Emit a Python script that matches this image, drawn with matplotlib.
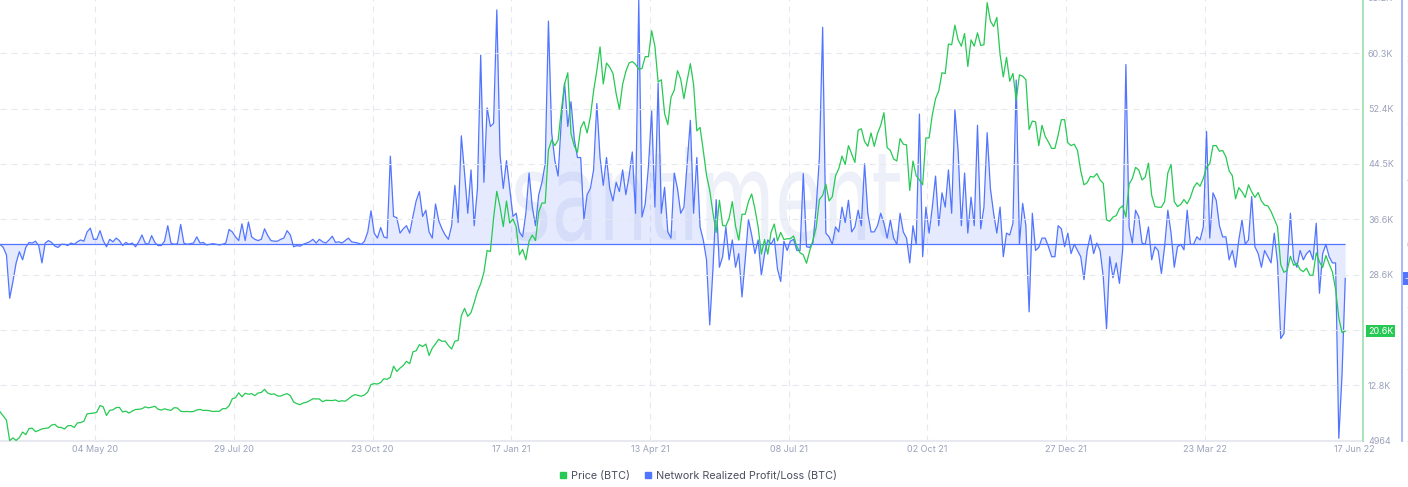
import matplotlib
matplotlib.use("Agg")
import matplotlib.pyplot as plt
import matplotlib.dates as mdates
import numpy as np
import pandas as pd
from matplotlib.lines import Line2D
from matplotlib.textpath import TextPath
from matplotlib.patches import PathPatch
from matplotlib.font_manager import FontProperties
from matplotlib.transforms import Affine2D

# ---------------- data (2-day samples starting 2020-03-06) ----------------
START_DATE = "2020-03-06"

price = [
    # 2020
    9100, 8500, 7900, 4970, 5360, 5000, 5400, 6200, 5830, 6700, 6750, 6250, 6430,
    6640, 6730, 6780, 7200, 7300, 6880, 6850, 6640, 7100, 7130, 6850, 7500, 7550, 7750, 8800,
    8860, 8900, 9030, 9980, 9800, 8560, 9300, 9380, 9680, 9730, 9070, 9180, 8900, 9200, 9420, 9450,
    9520, 9800, 9650, 9750, 9880, 9460, 9340, 9520, 9380, 9300, 9680, 9630, 9170, 9110, 9140,
    9100, 9130, 9350, 9430, 9280, 9300, 9240, 9130, 9170, 9160, 9530, 9540, 9930, 10950, 11100,
    11800, 11230, 11740, 11600, 11680, 11400, 11770, 11850, 12300, 11760, 11580, 11650, 11350, 11330, 11540, 11680,
    11400, 10500, 10250, 10110, 10350, 10450, 10680, 10950, 10930, 10920, 10530, 10740, 10720, 10690, 10780,
    10560, 10670, 10600, 10920, 11300, 11550, 11430, 11320, 11500, 11920, 12990, 13110, 13060, 13270, 13800,
    13740, 14020, 15600, 14850, 15330, 15700, 16300, 15960, 17650, 17800, 18680, 18400, 18760, 17140, 18190,
    18800, 19450, 19150, 19190, 18550, 18060, 19170, 19270, 22800, 23860, 22720, 23240, 24700, 26270, 27360, 28990,
    # 2021
    32130, 31970, 36770, 40580, 38350, 35540, 39190, 36040, 36630, 35510, 31500, 32290, 30800, 33470, 34320,
    33540, 37620, 38900, 38900, 46480, 47900, 47100, 47900, 52150, 55890, 57500, 48800, 47070, 46150,
    49600, 50540, 48900, 51200, 54900, 57800, 61200, 55900, 58900, 58300, 57400, 54500, 52300, 55850, 57700, 58900,
    59100, 58700, 58000, 58100, 59800, 59800, 63500, 61300, 56200, 56500, 51700, 50100, 54000, 55000, 57800,
    56600, 53800, 56400, 58800, 55800, 49200, 49700, 46400, 42900, 40700, 37500, 34700, 39300, 35700, 35600,
    36700, 39100, 35600, 33600, 37300, 37300, 39100, 40200, 38100, 35500, 31600, 33700, 31600, 34700, 35900,
    33500, 34700, 33700, 33800, 33800, 34200, 32700, 31800, 31500, 30300, 32100, 33600, 35400, 39400, 40000, 41600,
    39200, 39800, 42800, 43800, 45600, 44400, 47100, 45900, 44700, 49300, 49500, 47700, 47000, 48900, 47000,
    48800, 50000, 51800, 46800, 46400, 45200, 44900, 48100, 47300, 47200, 40700, 44900, 42800, 42200, 41500,
    48200, 48200, 51500, 53800, 54900, 57500, 57400, 61600, 61500, 64300, 62200, 61300, 63100, 58400, 62200, 61300,
    63200, 61400, 61500, 67500, 64900, 64100, 65400, 60100, 56900, 59700, 56300, 57400, 53600, 57200, 57000,
    56500, 49400, 50600, 50500, 47100, 50000, 48400, 47600, 46700, 46700, 48600, 50800, 50800, 47500, 47100,
    # 2022
    47300, 46400, 43500, 41500, 41800, 42700, 42600, 43100, 42200, 41700, 36500, 36300, 36900, 37100, 38100, 38500,
    36900, 41600, 42400, 44000, 43600, 42200, 42600, 44600, 40000, 38400, 38300, 38300, 39100, 43200,
    44400, 39100, 38400, 38700, 39400, 38800, 39700, 41100, 41800, 41300, 42400, 44000, 44500, 47100, 47100,
    46300, 46400, 45500, 43500, 42800, 39500, 41100, 40500, 39700, 41500, 40500, 39700, 40400, 39200, 38600,
    38500, 37700, 36600, 35500, 30100, 29000, 29300, 31300, 30000, 30300, 29400, 29100, 29600, 28600, 28600, 31800,
    30500, 29700, 31400, 30200, 29100, 26600, 22500, 20400, 20600,
]

pnl = [  # network realized profit/loss, billions
    0.0, -0.05, -0.17, -0.87, -0.6, -0.3, -0.12, -0.25, -0.05, 0.03,
    0.02, 0.05, -0.02, -0.3, 0.02, 0.06, 0.03, -0.03, -0.05, 0.0,
    0.0, -0.02, 0.02, 0.0, 0.04, 0.07, 0.05, 0.2, 0.26, 0.08,
    0.08, 0.22, 0.06, -0.04, 0.08, 0.04, 0.1, 0.06, -0.02, 0.03,
    0.0, 0.02, -0.04, 0.04, 0.15, 0.02, 0.0, 0.14, 0.03, -0.02,
    -0.02, 0.05, 0.3, 0.02, 0.0, 0.01, 0.32, 0.02, 0.0, 0.01,
    0.02, 0.12, 0.02, 0.03, -0.01, 0.0, 0.01, 0.0, -0.01, 0.0,
    0.02, 0.24, 0.2, 0.12, 0.06, 0.33, 0.06, 0.36, 0.12, 0.08,
    0.06, 0.08, 0.25, 0.14, 0.06, 0.05, 0.05, 0.08, 0.1, 0.22,
    0.15, -0.04, -0.02, -0.03, 0.0, 0.02, 0.04, 0.08, 0.02, 0.08,
    0.04, 0.02, 0.07, 0.13, 0.03, 0.04, 0.02, 0.06, 0.1, 0.04,
    0.03, 0.02, 0.0, 0.05, 0.2, 0.54, 0.18, 0.1, 0.27, 0.12,
    0.1, 1.42, 0.45, 0.43, 0.18, 0.25, 0.3, 0.18, 0.45, 0.7,
    0.85, 0.45, 0.55, 0.2, 0.1, 0.65, 0.38, 0.25, 0.15, 0.08,
    0.3, 0.95, 0.35, 1.75, 1.15, 0.5, 1.2, 0.3, 0.9, 3.05,
    1.0, 2.2, 1.9, 1.95, 3.78, 1.45, 0.9, 1.35, 0.9, 0.45,
    0.5, 0.2, 0.12, 0.5, 1.15, 0.6, 0.3, 0.8, 1.0, 1.3,
    3.6, 1.8, 1.35, 1.1, 2.0, 2.6, 1.9, 2.3, 1.7, 1.4,
    1.4, 0.4, 0.8, 0.9, 1.2, 2.27, 1.4, 0.95, 1.4, 0.9,
    0.7, 1.0, 0.85, 1.2, 0.8, 1.1, 1.49, 0.5, 3.94, 0.44,
    0.65, 1.25, 2.15, 0.6, 2.6, 0.5, 0.92, 0.2, 0.1, 1.15,
    0.9, 0.5, 0.6, 1.3, 2.0, 0.5, 1.4, 0.28, 0.07, -0.25,
    -1.3, -0.4, 0.72, -0.37, -0.2, 0.28, -0.25, 0.07, -0.37, -0.15,
    -0.85, -0.25, 0.4, 0.15, -0.15, 0.07, -0.5, -0.15, 0.07, 0.0,
    0.1, -0.4, -0.6, 0.05, -0.1, 0.05, 0.08, -0.1, -0.1, 1.14,
    -0.04, -0.05, 0.02, 0.6, 1.4, 3.5, 0.18, 0.12, 0.0, 0.28,
    0.2, 0.6, 0.35, 0.71, 0.2, 0.28, 0.55, 0.3, 1.3, 0.5,
    0.2, 0.2, 0.3, 0.5, 0.34, 0.1, 0.39, 0.1, 0.0, 0.5,
    0.2, 0.1, -0.3, 0.3, 0.0, 2.1, -0.2, 0.6, 0.18, 0.6,
    1.1, 0.3, 0.83, 0.6, 1.2, 0.5, 2.17, 1.5, 0.3, 1.15,
    0.18, 0.76, 0.3, 1.92, 0.25, 0.6, 1.8, 0.9, 0.5, 0.18,
    0.6, -0.2, 0.18, 0.15, 0.34, 2.65, 0.0, 0.66, 0.3, -1.09,
    0.5, -0.1, -0.05, 0.1, 0.1, -0.04, -0.2, -0.2, 0.3, 0.25,
    -0.04, 0.18, -0.15, 0.0, -0.1, -0.2, -0.57, -0.1, 0.15, -0.15,
    0.02, -0.1, -0.53, -1.36, -0.2, -0.54, -0.3, -0.63, -0.09, 2.9,
    0.28, 0.02, 0.55, 0.44, 0.02, 0.0, 0.28, -0.25, -0.04, -0.1,
    -0.47, -0.04, 0.55, 0.18, -0.37, -0.04, 0.0, -0.09, 0.55, 0.0,
    0.0, 0.12, 0.07, 0.28, 1.82, 0.1, 0.83, 0.71, 0.3, 0.12,
    0.12, -0.25, -0.1, -0.37, 0.07, 0.39, 0.0, 0.07, 0.77, -0.04,
    -0.15, -0.37, -0.1, -0.2, -0.3, 0.18, -0.3, -1.52, -1.44, -0.37,
    0.5, -0.25, -0.37, -0.1, -0.25, -0.15, -0.1, -0.25, 0.34, -0.79,
    -0.15, 0.0, -0.2, -0.3, -0.3, -3.13, -2.1, -0.55,
]

date_ticks = ["2020-05-04", "2020-07-29", "2020-10-23", "2021-01-17", "2021-04-13",
              "2021-07-08", "2021-10-02", "2021-12-27", "2022-03-23"]
last_date_label = "17 Jun 22"
last_date = "2022-06-17"

price_ticks = [4964, 12869, 20774, 28679, 36584, 44489, 52394, 60299, 68204]
price_tick_labels = ["4964", "12.8K", "", "28.6K", "36.6K", "44.5K", "52.4K", "60.3K", "68.2K"]
price_last_label = "20.6K"

pnl_ticks = [-3.168, -2, -1, 0, 1, 2, 3]
pnl_tick_labels = ["-3.17B", "-2B", "-1B", "0", "1B", "2B", "3B"]
pnl_last_label = "-0.55B"

series_labels = ["Price (BTC)", "Network Realized Profit/Loss (BTC)"]

# ---------------- style ----------------
GREEN = "#26c953"
BLUE = "#5275ff"
TICK_C = "#9aa2bb"
GRID_C = "#e6e8f0"
plt.rcParams["font.family"] = ["Inter", "DejaVu Sans"]

W, H = 1408, 487
fig = plt.figure(figsize=(W / 100, H / 100), dpi=100, facecolor="white")
PR, PB, PTOP = 1363, 440.7, -2.2   # plot right, bottom, top (pixels from top)
axb = fig.add_axes([0, (H - PB) / H, PR / W, (PB - PTOP) / H])
axp = axb.twinx()
axb.patch.set_alpha(0)
axp.patch.set_alpha(0)

pdates = pd.date_range(START_DATE, periods=len(price), freq="2D")
bdates = pd.date_range(START_DATE, periods=len(pnl), freq="2D")

PRICE_LIM = (4964, 68204)
PNL_LIM = (-3.168, 3.976)

# watermark
fp = FontProperties(family="DejaVu Sans")
tp = TextPath((0, 0), "santiment", size=1, prop=fp)
ext = tp.get_extents()
sy = 67 / 0.547
sx = (900 - 515) / ext.width
tr = Affine2D().translate(-ext.x0, 0).scale(sx, sy).translate(515, H - 240).scale(1 / 100) + fig.dpi_scale_trans
wm = PathPatch(tp, transform=tr, fc="#edf0f9", ec="none", zorder=-1)
fig.add_artist(wm)

# blue series
axb.fill_between(bdates, pnl, 0, color=BLUE, alpha=0.15, lw=0, zorder=2)
axb.plot(bdates, pnl, color=BLUE, lw=0.9, zorder=3)
axb.hlines(0, bdates[0], bdates[-1], color=BLUE, lw=0.9, zorder=3)

# price series
axp.plot(pdates, price, color=GREEN, lw=0.9, zorder=3)

axb.set_xlim(pd.Timestamp("2020-03-06"), pd.Timestamp("2022-06-29"))

# x axis
axb.set_xticks(pd.to_datetime(date_ticks))
axb.xaxis.set_major_formatter(mdates.DateFormatter("%d %b %y"))
axb.tick_params(axis="x", length=0, pad=3, labelsize=6.5, labelcolor=TICK_C)
axb.grid(axis="x", color=GRID_C, lw=0.8, linestyle=(0, (5.4, 4.5)))
axb.annotate(last_date_label, xy=(pd.Timestamp(last_date), 0), xycoords=("data", "axes fraction"),
             xytext=(8, -3), textcoords="offset points", ha="center", va="top",
             fontsize=6.5, color=TICK_C, annotation_clip=False)

# price axis
axp.set_yticks(price_ticks)
axp.set_yticklabels(price_tick_labels)
axp.tick_params(axis="y", length=0, pad=3.6, labelsize=6.5, labelcolor=TICK_C)
axp.grid(axis="y", color=GRID_C, lw=0.8, linestyle=(0, (5.4, 4.5)))
axp.set_ylim(*PRICE_LIM)
for s in ["top", "left", "bottom"]:
    axp.spines[s].set_visible(False)
axp.spines["right"].set_color("#a8e5b8")
axp.spines["right"].set_linewidth(1.4)
axp.annotate(price_last_label, xy=(1, price[-1]), xycoords=("axes fraction", "data"),
             xytext=(3.8, 0), textcoords="offset points", ha="left", va="center",
             fontsize=6.5, color="white", annotation_clip=False,
             bbox=dict(boxstyle="square,pad=0.2", fc=GREEN, ec="none"))

# pnl axis
axb.yaxis.tick_right()
axb.set_yticks(pnl_ticks)
axb.set_yticklabels(pnl_tick_labels)
axb.tick_params(axis="y", length=0, pad=3.0, labelsize=6.5, labelcolor=TICK_C)
axb.set_ylim(*PNL_LIM)
for s in ["top", "left"]:
    axb.spines[s].set_visible(False)
axb.spines["bottom"].set_color("#e8e9f0")
axb.spines["bottom"].set_linewidth(1.5)
axb.spines["right"].set_position(("axes", 1402 / PR))
axb.spines["right"].set_color("#a9b8fb")
axb.spines["right"].set_linewidth(1.4)
axb.annotate(pnl_last_label, xy=(1402 / PR, pnl[-1]), xycoords=("axes fraction", "data"),
             xytext=(2, 0), textcoords="offset points", ha="left", va="center",
             fontsize=6.5, color="white", annotation_clip=False,
             bbox=dict(boxstyle="square,pad=0.2", fc=BLUE, ec="none"))

# legend
handles = [Line2D([], [], marker="s", ls="none", color=GREEN, markersize=5),
           Line2D([], [], marker="s", ls="none", color=BLUE, markersize=5)]
fig.legend(handles, series_labels, loc="center", bbox_to_anchor=(698 / W, 1 - 476 / H),
           ncol=2, frameon=False, fontsize=7.8, handletextpad=0.3, columnspacing=1.3,
           handlelength=0.8, labelcolor="#4b5060")

fig.savefig("out.png", dpi=100, facecolor="white")
